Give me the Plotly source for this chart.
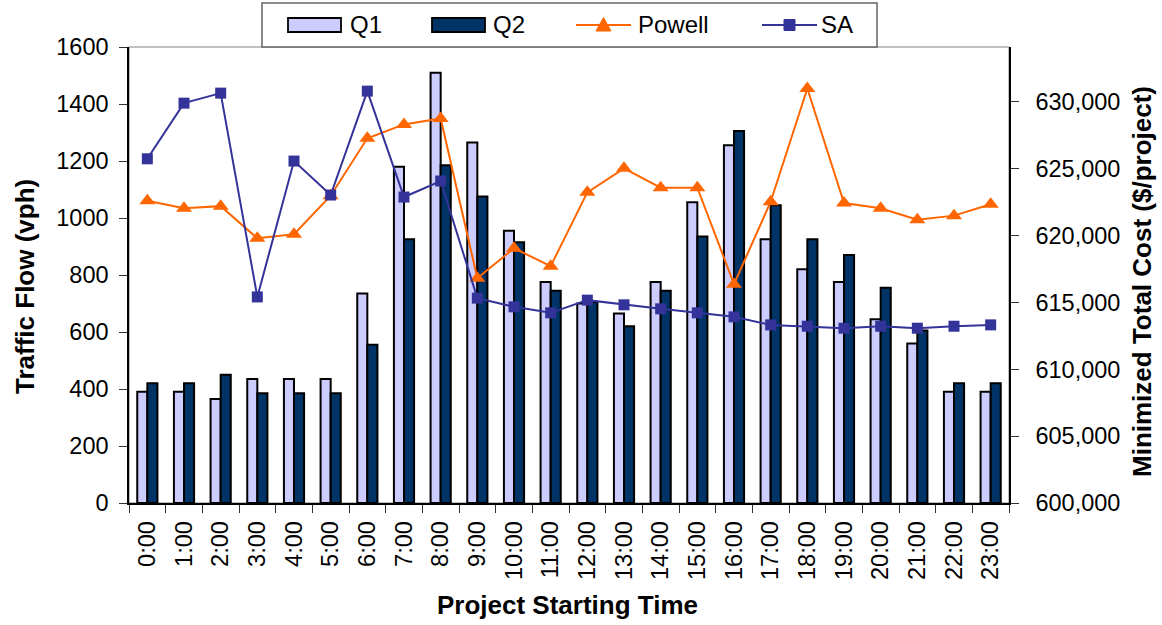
import plotly.graph_objects as go

# ---- data ----
hours = ["0:00", "1:00", "2:00", "3:00", "4:00", "5:00", "6:00", "7:00",
         "8:00", "9:00", "10:00", "11:00", "12:00", "13:00", "14:00", "15:00",
         "16:00", "17:00", "18:00", "19:00", "20:00", "21:00", "22:00", "23:00"]

q1 = [390, 390, 365, 435, 435, 435, 735, 1180, 1510, 1265, 955, 775,
      700, 665, 775, 1055, 1255, 925, 820, 775, 645, 560, 390, 390]
q2 = [420, 420, 450, 385, 385, 385, 555, 925, 1185, 1075, 915, 745,
      705, 620, 745, 935, 1305, 1045, 925, 870, 755, 605, 420, 420]

powell = [622600, 622050, 622200, 619800, 620100, 622980, 627270, 628310,
          628760, 616810, 619050, 617710, 623230, 625030, 623580, 623580,
          616360, 622530, 631000, 622430, 622040, 621190, 621490, 622340]
sa = [625740, 629900, 630650, 615410, 625570, 623030, 630800, 622880,
      624080, 615320, 614670, 614220, 615170, 614820, 614520, 614220,
      613920, 613320, 613220, 613070, 613220, 613070, 613220, 613320]

flow_ticks = [0, 200, 400, 600, 800, 1000, 1200, 1400, 1600]
cost_ticks = [600000, 605000, 610000, 615000, 620000, 625000, 630000]

# ---- styling ----
FONT = "Liberation Sans, Arial, sans-serif"
C_Q1 = "#CCCCFF"
C_Q2 = "#003366"
C_POWELL = "#FF6600"
C_SA = "#333399"
W, H = 1162, 625
ML, MR, MT, MB = 129, 153, 47, 122
PW, PH = W - ML - MR, H - MT - MB


def px(x):
    return (x - ML) / PW


def py(y):
    return (H - MB - y) / PH


fig = go.Figure()

fig.add_trace(go.Bar(x=hours, y=q1, name="Q1", marker=dict(color=C_Q1, line=dict(color="black", width=2)),
                     showlegend=False))
fig.add_trace(go.Bar(x=hours, y=q2, name="Q2", marker=dict(color=C_Q2, line=dict(color="black", width=2)),
                     showlegend=False))
fig.add_trace(go.Scatter(x=hours, y=powell, name="Powell", yaxis="y2", mode="lines+markers",
                         line=dict(color=C_POWELL, width=2),
                         marker=dict(symbol="triangle-up", size=14, color=C_POWELL),
                         showlegend=False))
fig.add_trace(go.Scatter(x=hours, y=sa, name="SA", yaxis="y2", mode="lines+markers",
                         line=dict(color=C_SA, width=2),
                         marker=dict(symbol="square", size=11, color=C_SA),
                         showlegend=False))

tickfont = dict(family=FONT, size=23.5, color="black")
titlefont = dict(family=FONT, size=26, color="black", weight="bold")

fig.update_layout(
    width=W, height=H,
    margin=dict(l=ML, r=MR, t=MT, b=MB, pad=0),
    paper_bgcolor="white", plot_bgcolor="white",
    barmode="group", bargap=0.45, bargroupgap=0,
    xaxis=dict(type="category", categoryorder="array", categoryarray=hours,
               range=[-0.5, 23.5], tickangle=-90, tickfont=tickfont,
               ticks="outside", tickson="boundaries", ticklen=8, tickwidth=1, tickcolor="#333",
               showline=True, linecolor="black", linewidth=1.5, showgrid=False,
               ticklabelstandoff=7),
    xaxis2=dict(overlaying="x", anchor="y", range=[-0.5, 23.5], type="linear",
                tickvals=[i - 0.5 for i in range(25)], ticks="inside", ticklen=8,
                tickwidth=1, tickcolor="#333", showticklabels=False, showgrid=False,
                zeroline=False, showline=False),
    yaxis=dict(range=[0, 1600], tickvals=flow_ticks, tickfont=tickfont,
               ticks="outside", ticklen=8, tickwidth=1, tickcolor="#333",
               showline=True, linecolor="black", linewidth=1.5, showgrid=False,
               zeroline=False, ticklabelstandoff=6),
    yaxis2=dict(overlaying="y", side="right", anchor="x", range=[600000, 634100],
                tickvals=cost_ticks, tickformat=",d", tickfont=tickfont,
                ticks="outside", ticklen=8, tickwidth=1, tickcolor="#333",
                showline=True, linecolor="black", linewidth=1.5, showgrid=False,
                zeroline=False, ticklabelstandoff=12),
    yaxis3=dict(overlaying="y", side="left", anchor="x", range=[0, 1600],
                tickvals=flow_ticks, ticks="inside", ticklen=8, tickwidth=1, tickcolor="#333",
                showticklabels=False, showgrid=False, zeroline=False, showline=False),
    yaxis4=dict(overlaying="y", side="right", anchor="x", range=[600000, 634100],
                tickvals=cost_ticks, ticks="inside", ticklen=8, tickwidth=1, tickcolor="#333",
                showticklabels=False, showgrid=False, zeroline=False, showline=False),
    showlegend=False,
)

shapes = []
# plot-area frame
shapes.append(dict(type="rect", xref="paper", yref="paper", x0=0, x1=1, y0=0, y1=1,
                   line=dict(color="#808080", width=1), layer="below"))

# legend box
LEG_T, LEG_B = 3, 47
LEG_MID = (LEG_T + LEG_B) / 2
shapes.append(dict(type="rect", xref="paper", yref="paper", x0=px(262), x1=px(877),
                   y0=py(LEG_B), y1=py(LEG_T), line=dict(color="#666", width=1.5),
                   fillcolor="white"))
# bar swatches
for x0, col in [(288, C_Q1), (432, C_Q2)]:
    shapes.append(dict(type="rect", xref="paper", yref="paper", x0=px(x0), x1=px(x0 + 53),
                       y0=py(LEG_MID + 7), y1=py(LEG_MID - 7), fillcolor=col,
                       line=dict(color="black", width=1.8)))
# line swatches
for x0, col in [(576, C_POWELL), (762, C_SA)]:
    shapes.append(dict(type="line", xref="paper", yref="paper", x0=px(x0), x1=px(x0 + 55),
                       y0=py(LEG_MID), y1=py(LEG_MID), line=dict(color=col, width=2)))
# triangle marker
tx = 603.5
shapes.append(dict(type="path", xref="paper", yref="paper",
                   path=f"M {px(tx - 7.5)},{py(LEG_MID + 6)} L {px(tx + 7.5)},{py(LEG_MID + 6)} "
                        f"L {px(tx)},{py(LEG_MID - 7.5)} Z",
                   fillcolor=C_POWELL, line=dict(color=C_POWELL, width=1)))
# square marker
sx = 789.5
shapes.append(dict(type="rect", xref="paper", yref="paper", x0=px(sx - 5.5), x1=px(sx + 5.5),
                   y0=py(LEG_MID + 5.5), y1=py(LEG_MID - 5.5), fillcolor=C_SA,
                   line=dict(color=C_SA, width=1)))

annotations = []
for x0, txt in [(348, "Q1"), (491, "Q2"), (636, "Powell"), (819, "SA")]:
    annotations.append(dict(xref="paper", yref="paper", x=px(x0), y=py(LEG_MID), text=txt,
                            showarrow=False, xanchor="left", yanchor="middle",
                            font=dict(family=FONT, size=24, color="black")))

# axis titles
annotations.append(dict(xref="paper", yref="paper", x=px(567), y=py(605),
                        text="Project Starting Time", showarrow=False,
                        xanchor="center", yanchor="middle", font=titlefont))
annotations.append(dict(xref="paper", yref="paper", x=px(25), y=py(287),
                        text="Traffic Flow (vph)", showarrow=False, textangle=-90,
                        xanchor="center", yanchor="middle", font=titlefont))
annotations.append(dict(xref="paper", yref="paper", x=px(1142), y=py(282),
                        text="Minimized Total Cost ($/project)", showarrow=False, textangle=-90,
                        xanchor="center", yanchor="middle", font=titlefont))

fig.update_layout(shapes=shapes, annotations=annotations)

fig.write_html("out.html")
